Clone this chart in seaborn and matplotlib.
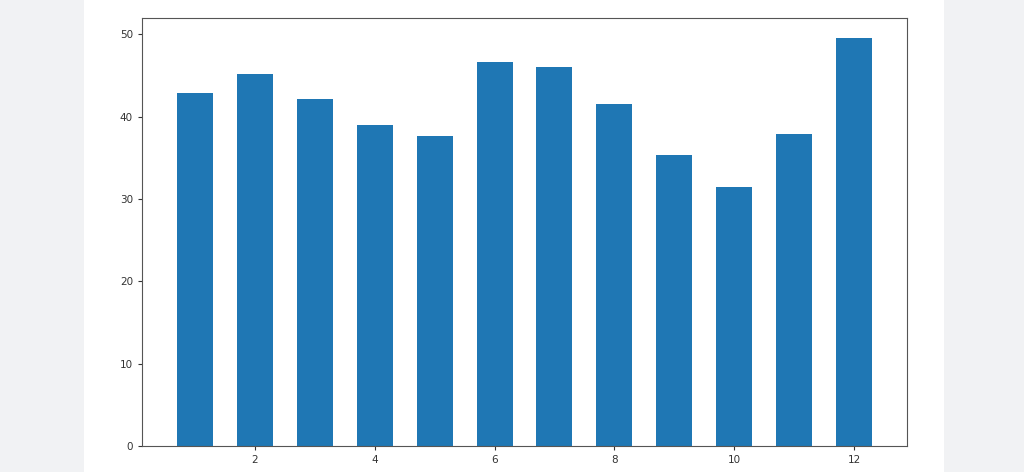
import numpy as np
import pandas as pd
import seaborn as sns
from matplotlib import pyplot as plt
from matplotlib.patches import Rectangle

# values
months = [1, 2, 3, 4, 5, 6, 7, 8, 9, 10, 11, 12]
values = [42.9, 45.2, 42.1, 39.0, 37.7, 46.7, 46.1, 41.6, 35.4, 31.5, 37.9, 49.6]

data = pd.DataFrame({"month": months, "value": values})

sns.set_style("ticks")
plt.rcParams["font.family"] = ["DejaVu Sans"]

fig = plt.figure(figsize=(10.24, 4.72), dpi=100)
fig.patch.set_facecolor("#f1f2f4")
# white page area behind the plot
fig.patches.append(Rectangle((84 / 1024, 0), 860 / 1024, 1, transform=fig.transFigure,
                             facecolor="white", edgecolor="none", zorder=-10))

ax = fig.add_axes([142 / 1024, 26 / 472, 765 / 1024, 428 / 472])
ax.set_zorder(1)
sns.barplot(data=data, x="month", y="value", native_scale=True, width=0.6,
            color="#1f77b4", saturation=1, linewidth=0, ax=ax)

ax.set_xlim(0.12, 12.88)
ax.set_ylim(0, 52.0)
ax.set_xticks([2, 4, 6, 8, 10, 12])
ax.set_yticks([0, 10, 20, 30, 40, 50])
ax.set_xlabel("")
ax.set_ylabel("")
ax.tick_params(labelsize=7.5, colors="#333333", length=3)
for s in ax.spines.values():
    s.set_visible(True)
    s.set_color("#555555")
    s.set_linewidth(0.8)

fig.savefig("out.png", dpi=100, facecolor=fig.get_facecolor())
